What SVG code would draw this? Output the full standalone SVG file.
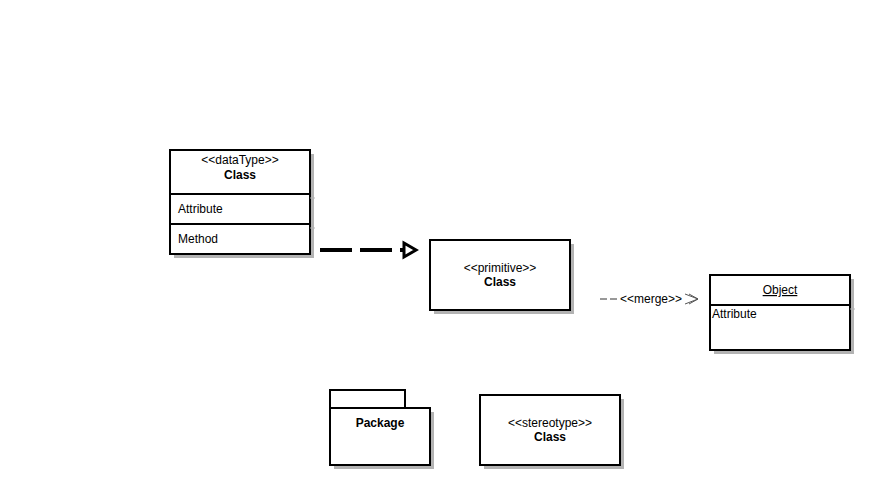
<svg xmlns="http://www.w3.org/2000/svg" width="878" height="485" viewBox="0 0 878 485">
<style>
.b{fill:#fff;stroke:#000;stroke-width:2}
.s{fill:#b3b3b3}
.t{font-family:"Liberation Sans",Arial,sans-serif;font-size:12px;fill:#000}
.c{text-anchor:middle}
.bold{font-weight:bold}
.g{stroke:#b3b3b3;stroke-width:1}
</style>
<rect width="878" height="485" fill="#fff"/>
<g id="datatype">
<rect class="s" x="174" y="154" width="140" height="104"/>
<rect class="b" x="170" y="150" width="140" height="104"/>
<line class="b" x1="170" y1="194" x2="310" y2="194"/>
<line class="b" x1="170" y1="224" x2="310" y2="224"/>
<line class="g" x1="310" y1="198" x2="315" y2="198"/>
<line class="g" x1="310" y1="228" x2="315" y2="228"/>
<text class="t c" x="240" y="164">&lt;&lt;dataType&gt;&gt;</text>
<text class="t c bold" x="240" y="179">Class</text>
<text class="t" x="178" y="213">Attribute</text>
<text class="t" x="178" y="243">Method</text>
</g>
<g id="primitive">
<rect class="s" x="434" y="244" width="140" height="70"/>
<rect class="b" x="430" y="240" width="140" height="70"/>
<text class="t c" x="500" y="272">&lt;&lt;primitive&gt;&gt;</text>
<text class="t c bold" x="500" y="286">Class</text>
</g>
<g id="object">
<rect class="s" x="714" y="279" width="140" height="75"/>
<rect class="b" x="710" y="275" width="140" height="75"/>
<line class="b" x1="710" y1="305" x2="850" y2="305"/>
<line class="g" x1="850" y1="309" x2="855" y2="309"/>
<text class="t c" x="780" y="294" text-decoration="underline">Object</text>
<text class="t" x="712" y="318">Attribute</text>
</g>
<g id="package">
<rect class="s" x="334" y="412" width="100" height="57"/>
<rect class="b" x="330" y="390" width="75" height="18"/>
<rect class="b" x="330" y="408" width="100" height="57"/>
<text class="t c bold" x="380" y="427">Package</text>
</g>
<g id="stereotype">
<rect class="s" x="484" y="399" width="140" height="70"/>
<rect class="b" x="480" y="395" width="140" height="70"/>
<text class="t c" x="550" y="427">&lt;&lt;stereotype&gt;&gt;</text>
<text class="t c bold" x="550" y="441">Class</text>
</g>
<g id="connectors">
<line x1="320" y1="250" x2="404" y2="250" stroke="#000" stroke-width="4" stroke-dasharray="32 8"/>
<path d="M404,243 L416,250 L404,257 Z" fill="#fff" stroke="#000" stroke-width="3"/>
<line x1="600" y1="299" x2="618" y2="299" stroke="#333" stroke-width="1" stroke-dasharray="7 3"/>
<text class="t" x="620" y="303" font-size="11">&lt;&lt;merge&gt;&gt;</text>
<path d="M685,294 L698,299 L685,304 M689,294 L698,299 L689,304" fill="none" stroke="#555" stroke-width="1"/>
</g>
</svg>
